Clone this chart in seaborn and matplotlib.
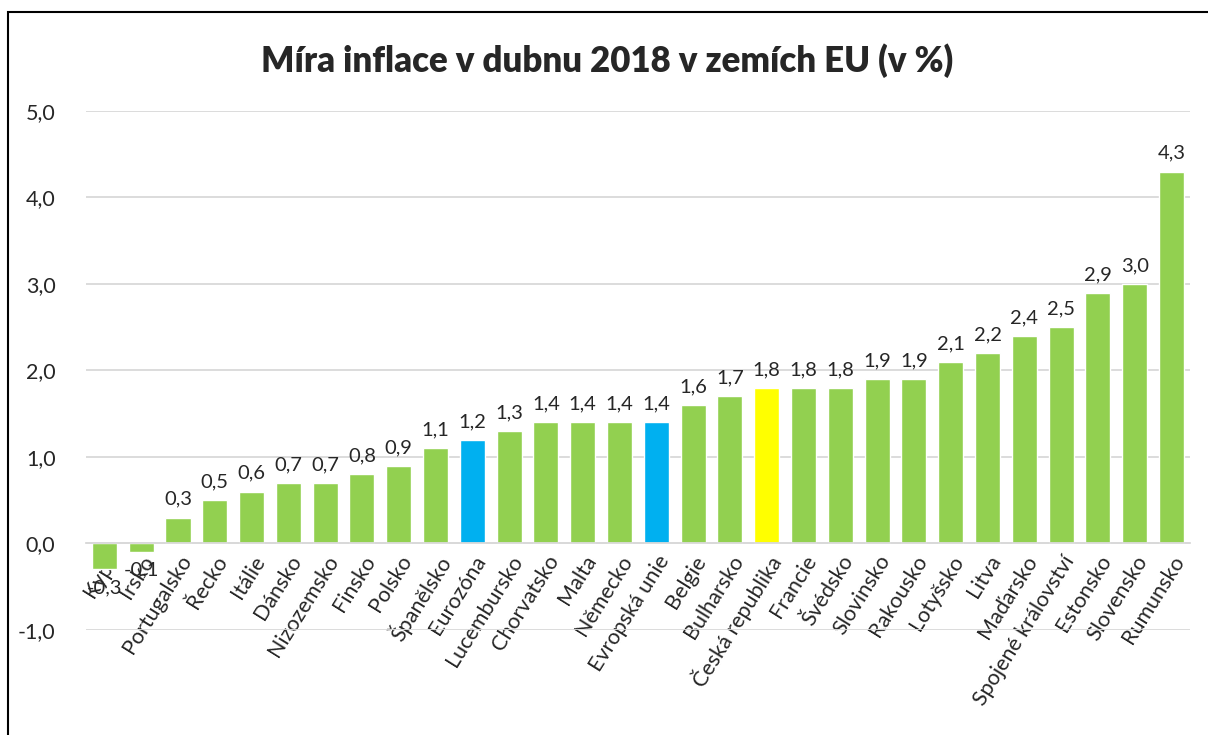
import numpy as np
import pandas as pd
import matplotlib.pyplot as plt
import seaborn as sns
from matplotlib.patches import Rectangle

countries = ["Kypr", "Irsko", "Portugalsko", "Řecko", "Itálie", "Dánsko", "Nizozemsko",
             "Finsko", "Polsko", "Španělsko", "Eurozóna", "Lucembursko", "Chorvatsko",
             "Malta", "Německo", "Evropská unie", "Belgie", "Bulharsko", "Česká republika",
             "Francie", "Švédsko", "Slovinsko", "Rakousko", "Lotyšsko", "Litva",
             "Maďarsko", "Spojené království", "Estonsko", "Slovensko", "Rumunsko"]
inflation = [-0.3, -0.1, 0.3, 0.5, 0.6, 0.7, 0.7, 0.8, 0.9, 1.1, 1.2, 1.3, 1.4, 1.4, 1.4,
             1.4, 1.6, 1.7, 1.8, 1.8, 1.8, 1.9, 1.9, 2.1, 2.2, 2.4, 2.5, 2.9, 3.0, 4.3]
highlight_blue = ["Eurozóna", "Evropská unie"]
highlight_yellow = ["Česká republika"]
y_ticks = [-1.0, 0.0, 1.0, 2.0, 3.0, 4.0, 5.0]

GREEN, BLUE, YELLOW = "#92D050", "#00B0F0", "#FFFF00"
colors = [BLUE if c in highlight_blue else YELLOW if c in highlight_yellow else GREEN
          for c in countries]

df = pd.DataFrame({"Země": countries, "Inflace": inflation})

sns.set_theme(style="white")
plt.rcParams['font.family'] = ['Lato', 'DejaVu Sans']

fig = plt.figure(figsize=(12.08, 7.35), dpi=100)
ax = fig.add_axes([0.0712, 0.1429, 0.9138, 0.7061])

sns.barplot(data=df, x="Země", y="Inflace", hue="Země", palette=colors,
            legend=False, width=0.68, saturation=1, ax=ax)

ax.set_xlim(-0.5, len(countries) - 0.5)
ax.set_ylim(-1.0, 5.0)
ax.set_yticks(y_ticks)
ax.set_yticklabels([f"{v:.1f}".replace(".", ",") for v in y_ticks], fontsize=15.5)
ax.yaxis.grid(True, color="#d9d9d9", linewidth=1.3)
ax.set_axisbelow(True)
ax.set_xlabel("")
ax.set_ylabel("")
for s in ["top", "right", "left"]:
    ax.spines[s].set_visible(False)
ax.spines["bottom"].set_position(("data", 0))
ax.spines["bottom"].set_color("#d9d9d9")
ax.spines["bottom"].set_linewidth(1.3)
ax.tick_params(axis="y", length=0, pad=22)
ax.tick_params(axis="x", length=0, pad=6)
ax.set_xticks(range(len(countries)))
ax.set_xticklabels(countries, rotation=58, ha="right", va="top",
                   rotation_mode="anchor", fontsize=15.5)

for cont in ax.containers:
    vals = cont.datavalues
    ax.bar_label(cont, labels=[f"{v:.1f}".replace(".", ",") for v in vals],
                 padding=7, fontsize=14.5)

fig.text(0.503, 0.918, "Míra inflace v dubnu 2018 v zemích EU (v %)",
         ha="center", va="center", fontsize=25, fontweight="heavy")

fig.patches.append(Rectangle((8 / 1208, -0.05), 1.2, 1 - 12 / 735 + 0.05,
                             transform=fig.transFigure, fill=False,
                             edgecolor="black", linewidth=1.5))

plt.savefig("out.png", dpi=100)
plt.close()
